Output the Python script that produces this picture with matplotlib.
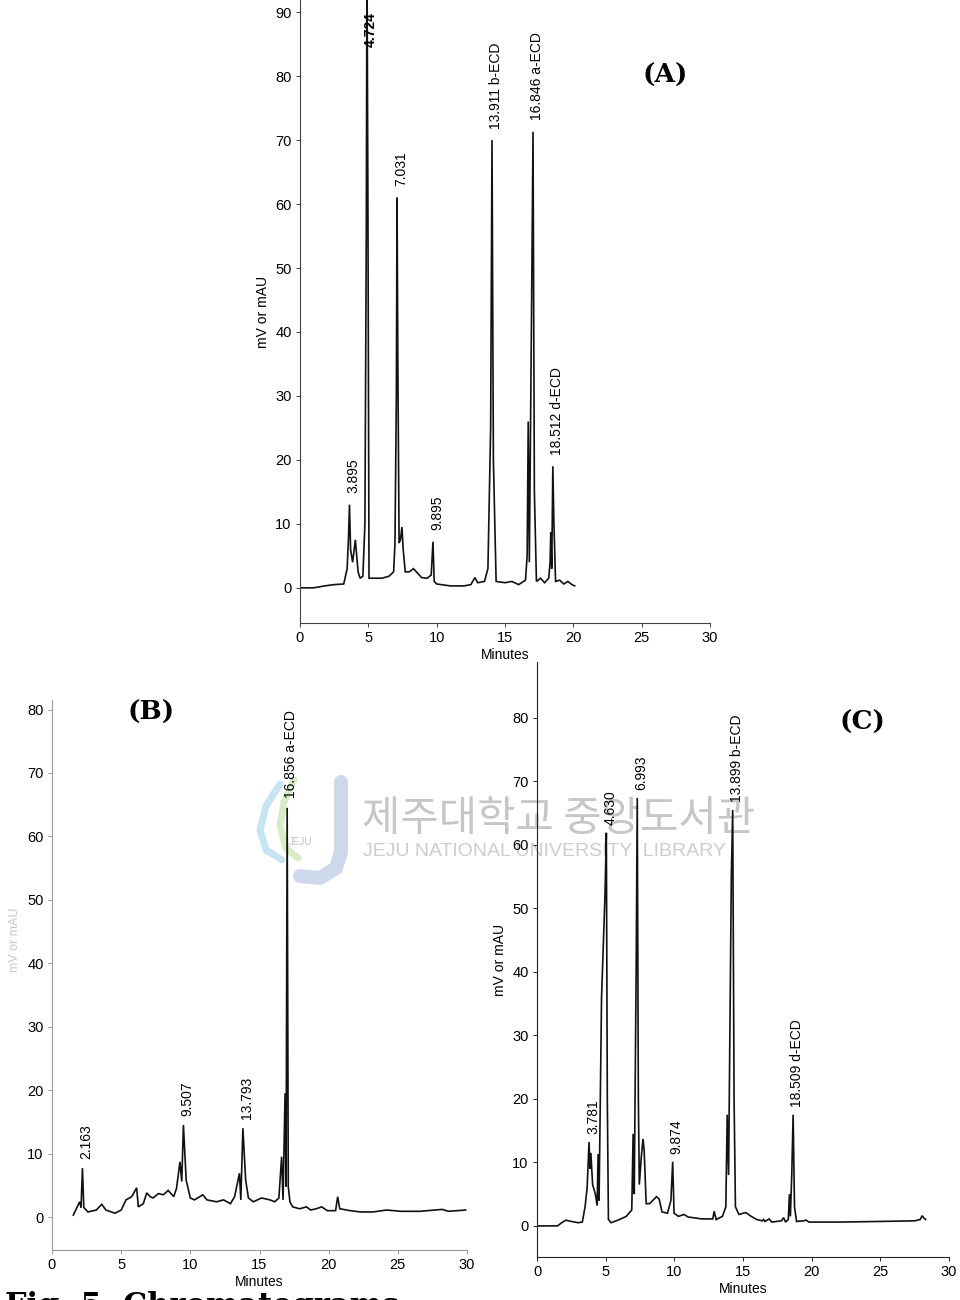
import matplotlib.pyplot as plt
import numpy as np
from matplotlib.lines import Line2D

plt.rcParams['font.family'] = ['Liberation Sans', 'DejaVu Sans']

# ---- panel A (standards) ----
a_time = [0.0, 1.0, 1.8, 2.5, 3.2, 3.45, 3.55, 3.62, 3.7, 3.85,
          4.05, 4.15, 4.25, 4.4, 4.6, 4.75, 4.85, 4.9, 4.97, 5.05,
          5.5, 6.0, 6.5, 6.85, 6.95, 7.05, 7.1, 7.16, 7.25, 7.35,
          7.46, 7.55, 7.7, 8.0, 8.3, 8.6, 8.9, 9.3, 9.6, 9.73,
          9.82, 10.0, 11.0, 12.0, 12.5, 12.8, 13.0, 13.5, 13.75, 13.95,
          14.05, 14.15, 14.35, 15.0, 15.5, 16.0, 16.5, 16.62, 16.7, 16.78,
          16.95, 17.05, 17.15, 17.3, 17.6, 17.9, 18.2, 18.3, 18.35, 18.42,
          18.5, 18.58, 18.7, 19.0, 19.3, 19.6, 19.9, 20.1]
a_signal = [0.0, 0.0, 0.3, 0.5, 0.6, 3.0, 8.0, 13.0, 6.0, 4.0,
            7.5, 5.0, 2.5, 1.5, 1.8, 10.0, 55.0, 100.0, 60.0, 1.5,
            1.5, 1.5, 1.8, 2.5, 7.0, 30.0, 61.0, 35.0, 7.0, 7.5,
            9.5, 6.0, 2.5, 2.5, 3.0, 2.3, 1.6, 1.5, 2.0, 7.2,
            1.0, 0.6, 0.3, 0.3, 0.5, 1.6, 0.8, 1.0, 3.0, 25.0,
            70.0, 20.0, 1.0, 0.8, 1.0, 0.5, 1.2, 5.0, 26.0, 4.0,
            45.0, 71.3, 15.0, 1.0, 1.5, 0.8, 1.5, 4.0, 8.7, 3.0,
            19.0, 10.0, 1.0, 1.2, 0.6, 1.0, 0.5, 0.3]
a_peak_names = ["3.895", "4.724", "7.031", "9.895",
                "13.911 b-ECD", "16.846 a-ECD", "18.512 d-ECD"]
a_peak_times = [3.62, 4.9, 7.1, 9.73, 14.05, 17.05, 18.5]

# ---- panel B ----
b_time = [1.54, 2.0, 2.1, 2.2, 2.3, 2.6, 3.2, 3.6, 3.9, 4.55,
          5.0, 5.35, 5.76, 6.12, 6.24, 6.6, 6.85, 7.1, 7.3, 7.7,
          8.05, 8.4, 8.8, 9.0, 9.25, 9.38, 9.5, 9.7, 10.0, 10.3,
          10.9, 11.2, 11.9, 12.4, 12.9, 13.2, 13.55, 13.65, 13.8, 14.0,
          14.2, 14.55, 15.15, 15.75, 16.1, 16.4, 16.6, 16.7, 16.85, 16.92,
          17.0, 17.08, 17.2, 17.4, 17.9, 18.4, 18.7, 19.1, 19.5, 19.9,
          20.5, 20.65, 20.8, 21.55, 22.3, 23.2, 24.2, 25.2, 26.6, 28.2,
          28.65, 29.9]
b_signal = [0.3, 2.4, 1.5, 7.7, 1.5, 0.8, 1.1, 2.0, 1.1, 0.6,
            1.1, 2.7, 3.2, 4.6, 1.6, 2.1, 3.8, 3.2, 3.0, 3.7,
            3.5, 4.2, 3.2, 4.5, 8.7, 5.6, 14.5, 5.8, 3.0, 2.7,
            3.5, 2.7, 2.4, 2.7, 2.1, 3.2, 6.9, 2.7, 14.0, 5.8,
            3.0, 2.4, 3.0, 2.7, 2.4, 3.0, 9.5, 2.7, 19.5, 4.8,
            64.5, 4.8, 2.4, 1.6, 1.3, 1.6, 1.1, 1.3, 1.6, 1.0,
            1.0, 3.2, 1.3, 1.0, 0.8, 0.8, 1.1, 0.9, 0.9, 1.2,
            0.9, 1.1]
b_peak_names = ["2.163", "9.507", "13.793", "16.856 a-ECD"]
b_peak_times = [2.2, 9.5, 13.8, 17.0]

# ---- panel C ----
c_time = [0.0, 1.5, 1.8, 2.1, 2.5, 3.0, 3.3, 3.5, 3.65, 3.79,
          3.85, 3.92, 4.05, 4.25, 4.38, 4.45, 4.52, 4.7, 4.95, 5.05,
          5.12, 5.2, 5.4, 6.0, 6.5, 6.9, 7.0, 7.08, 7.22, 7.3,
          7.38, 7.45, 7.6, 7.72, 7.8, 7.95, 8.2, 8.7, 8.9, 9.1,
          9.5, 9.75, 9.88, 9.98, 10.3, 10.7, 11.0, 12.0, 12.8, 12.9,
          13.05, 13.5, 13.75, 13.85, 13.95, 14.15, 14.25, 14.35, 14.45, 14.7,
          15.2, 15.6, 16.0, 16.4, 16.5, 16.6, 16.9, 17.1, 17.8, 17.95,
          18.1, 18.3, 18.38, 18.45, 18.55, 18.65, 18.75, 18.9, 19.4, 19.6,
          19.8, 22.0, 25.0, 27.5, 27.9, 28.05, 28.15, 28.3]
c_signal = [0.0, 0.0, 0.5, 0.9, 0.7, 0.5, 0.6, 3.0, 6.0, 13.2,
            9.0, 11.5, 6.5, 5.0, 3.2, 11.3, 4.0, 36.0, 52.0, 61.9,
            20.0, 1.0, 0.5, 1.0, 1.5, 2.5, 14.5, 5.0, 40.0, 67.4,
            20.0, 6.5, 11.0, 13.7, 12.0, 3.5, 3.5, 4.6, 4.2, 2.2,
            2.0, 4.0, 10.1, 2.0, 1.5, 1.8, 1.4, 1.1, 1.1, 2.3,
            1.0, 1.5, 3.0, 17.5, 8.0, 55.0, 65.5, 20.0, 3.0, 1.8,
            2.1, 1.5, 1.0, 0.8, 1.0, 0.7, 1.1, 0.6, 0.8, 1.3,
            0.6, 1.0, 5.0, 1.5, 8.0, 17.5, 3.0, 0.7, 0.8, 0.9,
            0.6, 0.6, 0.7, 0.8, 1.0, 1.6, 1.3, 1.0]
c_peak_names = ["3.781", "4.630", "6.993", "9.874",
                "13.899 b-ECD", "18.509 d-ECD"]
c_peak_times = [3.79, 5.05, 7.3, 9.88, 14.25, 18.65]

x_ticks = [0, 5, 10, 15, 20, 25, 30]

W, H = 960, 1300
fig = plt.figure(figsize=(W / 100, H / 100), dpi=100)


def box(left, top, right, bottom):
    # pixel box -> figure fraction axes
    return fig.add_axes([left / W, 1 - bottom / H,
                         (right - left) / W, (bottom - top) / H])


def chromatogram(ax, t, s, names, apex, ylim, yticks, pad, cap,
                 spine_color='#222222', ylab=True):
    ax.set_facecolor('none')
    ax.plot(t, s, color='#111111', lw=1.2, solid_joinstyle='miter')
    ax.set_xlim(0, 30)
    ax.set_ylim(*ylim)
    ax.set_xticks(x_ticks)
    ax.set_yticks(yticks)
    ax.tick_params(labelsize=10.5, length=3, width=0.7, pad=3,
                   color=spine_color)
    for side in ('top', 'right'):
        ax.spines[side].set_visible(False)
    for side in ('left', 'bottom'):
        ax.spines[side].set_color(spine_color)
        ax.spines[side].set_linewidth(0.8)
    ax.set_xlabel('Minutes', fontsize=10, labelpad=2)
    if ylab:
        ax.set_ylabel('mV or mAU', fontsize=10)
    ta, sa = np.array(t), np.array(s)
    for name, tp in zip(names, apex):
        top = sa[np.abs(ta - tp) < 0.1].max()
        y = min(top + pad, cap)
        ax.text(tp + 0.3, y, name, rotation=90, ha='center', va='bottom',
                fontsize=10, fontweight='bold' if top > cap else 'normal')


ax_a = box(300, 0, 710, 623)
chromatogram(ax_a, a_time, a_signal, a_peak_names, a_peak_times,
             (-5.5, 91.9), range(0, 91, 10), 1.8, 84.5, spine_color='#444444')

ax_b = box(52, 700, 467, 1250)
chromatogram(ax_b, b_time, b_signal, b_peak_names, b_peak_times,
             (-5.2, 81.5), range(0, 81, 10), 1.5, 78, spine_color='#999999',
             ylab=False)

ax_c = box(537, 662, 949, 1257)
chromatogram(ax_c, c_time, c_signal, c_peak_names, c_peak_times,
             (-4.9, 88.8), range(0, 81, 10), 1.2, 85)

# panel letters
for label, (px, py) in {'(A)': (665, 75), '(B)': (151, 712),
                        '(C)': (862, 722)}.items():
    fig.text(px / W, 1 - py / H, label, family='DejaVu Serif',
             fontweight='bold', fontsize=19, ha='center', va='center')

# faint y label of panel B (scan is washed out there)
fig.text(15 / W, 1 - 940 / H, 'mV or mAU', rotation=90, fontsize=9,
         color='#c8c8c8', ha='center', va='center')

# library watermark
fig.text(362 / W, 1 - 820 / H, '제주대학교 중앙도서관',
         family=['Noto Sans CJK KR', 'DejaVu Sans'], fontsize=30,
         color='#c6c6c6', ha='left', va='center', zorder=-1)
fig.text(363 / W, 1 - 852 / H, 'JEJU NATIONAL UNIVERSITY  LIBRARY',
         fontsize=14, color='#cdcdcd', ha='left', va='center', zorder=-1)

# logo strokes (pale, like the scan)
logo = [([341, 341, 336, 320, 300], [782, 852, 868, 878, 876], '#cdd8ea', 10),
        ([280, 266, 260, 266, 282], [784, 806, 830, 850, 860], '#c6e4f2', 5),
        ([294, 284, 280, 286, 298], [780, 802, 826, 848, 858], '#d8ecc8', 5)]
for xs, ys, col, lw in logo:
    fig.add_artist(Line2D(np.array(xs) / W, 1 - np.array(ys) / H, color=col,
                          lw=lw, solid_capstyle='round', zorder=-1,
                          transform=fig.transFigure))
fig.text(300 / W, 1 - 842 / H, 'JEJU', fontsize=7, color='#c0c0c0',
         ha='center', va='center', zorder=-1)

# caption, cut off by the bottom edge of the scan
fig.text(5 / W, 1 - 1291 / H, 'Fig. 5. Chromatograms', family='DejaVu Serif',
         fontweight='bold', fontsize=22, ha='left', va='top')

fig.savefig('out.png', dpi=100)
